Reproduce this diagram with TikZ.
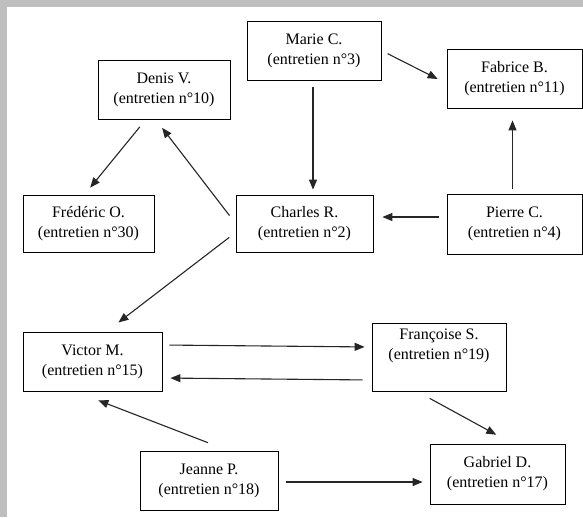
\documentclass[tikz,border=0pt]{standalone}
\usepackage{fontspec}
\setmainfont{Liberation Serif}
\usetikzlibrary{arrows.meta}

\begin{document}
\begin{tikzpicture}[x=1pt, y=-1pt,
                    box/.style={draw, thick, align=center, inner sep=0pt,
                                minimum height=59pt, font=\fontsize{16}{20}\selectfont},
                    link/.style={draw=black!85, line width=1.1pt,
                                 -{Triangle[length=10pt, width=8pt]}}
                    ]
    % cadre gris
    \fill[black!25] (0,0) rectangle (583,517);
    \fill[white] (7,7) rectangle (583,517);
    \useasboundingbox (0,0) rectangle (583,517);

    \node[box, minimum width=134pt] (marie)     at (314,50.5)  {Marie C.\\(entretien n°3)};
    \node[box, minimum width=132pt] (denis)     at (164,90)    {Denis V.\\(entretien n°10)};
    \node[box, minimum width=135pt] (fabrice)   at (514.5,78.5){Fabrice B.\\(entretien n°11)};
    \node[box, minimum width=131pt, minimum height=57pt] (frederic) at (88.5,223.5) {Frédéric O.\\(entretien n°30)};
    \node[box, minimum width=137pt, minimum height=57pt] (charles)  at (304.5,223.5){Charles R.\\(entretien n°2)};
    \node[box, minimum width=135pt, minimum height=60pt] (pierre)   at (514.5,224)  {Pierre C.\\(entretien n°4)};
    \node[box, minimum width=139pt] (victor)    at (92.5,361.5){Victor M.\\(entretien n°15)};
    \node[box, minimum width=134pt, minimum height=68pt] (francoise) at (439,357) {Françoise S.\\(entretien n°19)\\[6pt]};
    \node[box, minimum width=138pt] (jeanne)    at (209,480.5) {Jeanne P.\\(entretien n°18)};
    \node[box, minimum width=135pt, minimum height=60pt] (gabriel)  at (497.5,474) {Gabriel D.\\(entretien n°17)};

    \draw[link, shorten <=7pt, shorten >=5pt] ([xshift=-1pt]marie.south) -- ([xshift=-1pt]marie.south |- charles.north);
    \draw[link, shorten <=7pt, shorten >=10pt] (marie.east) -- ([yshift=-5pt]fabrice.west);
    \draw[link, shorten <=5pt, shorten >=12pt] ([xshift=-2pt]pierre.north) -- ([xshift=-2pt]fabrice.south);
    \draw[link, shorten <=8pt, shorten >=9pt] ([yshift=7pt]pierre.west) -- ([yshift=7pt]pierre.west -| charles.east);
    \draw[link, shorten <=10pt, shorten >=10pt] (charles.west) -- ([xshift=-8pt]denis.south);
    \draw[link, shorten <=9pt, shorten >=9pt] ([xshift=-18.5pt]denis.south) -- ([xshift=-4pt]frederic.north);
    \draw[link, shorten <=8pt, shorten >=15pt] ([yshift=-9pt]charles.west) -- ([xshift=14pt]victor.north);
    \draw[link, shorten <=7pt, shorten >=7pt] ([yshift=16.5pt]victor.east) -- ([yshift=10pt]francoise.west);
    \draw[link, shorten <=9pt, shorten >=8pt] ([yshift=-23pt]francoise.west) -- ([yshift=-16.5pt]victor.east);
    \draw[link, shorten <=22pt, shorten >=25pt] ([xshift=19.5pt]jeanne.north) -- ([xshift=-17.5pt]victor.south);
    \draw[link, shorten <=8pt, shorten >=7pt] ([yshift=-1.5pt]jeanne.east) -- ([yshift=-1.5pt]jeanne.east -| gabriel.west);
    \draw[link, shorten <=14.5pt, shorten >=18.5pt] ([xshift=-22pt]francoise.south) -- ([xshift=15pt]gabriel.north);
\end{tikzpicture}
\end{document}
